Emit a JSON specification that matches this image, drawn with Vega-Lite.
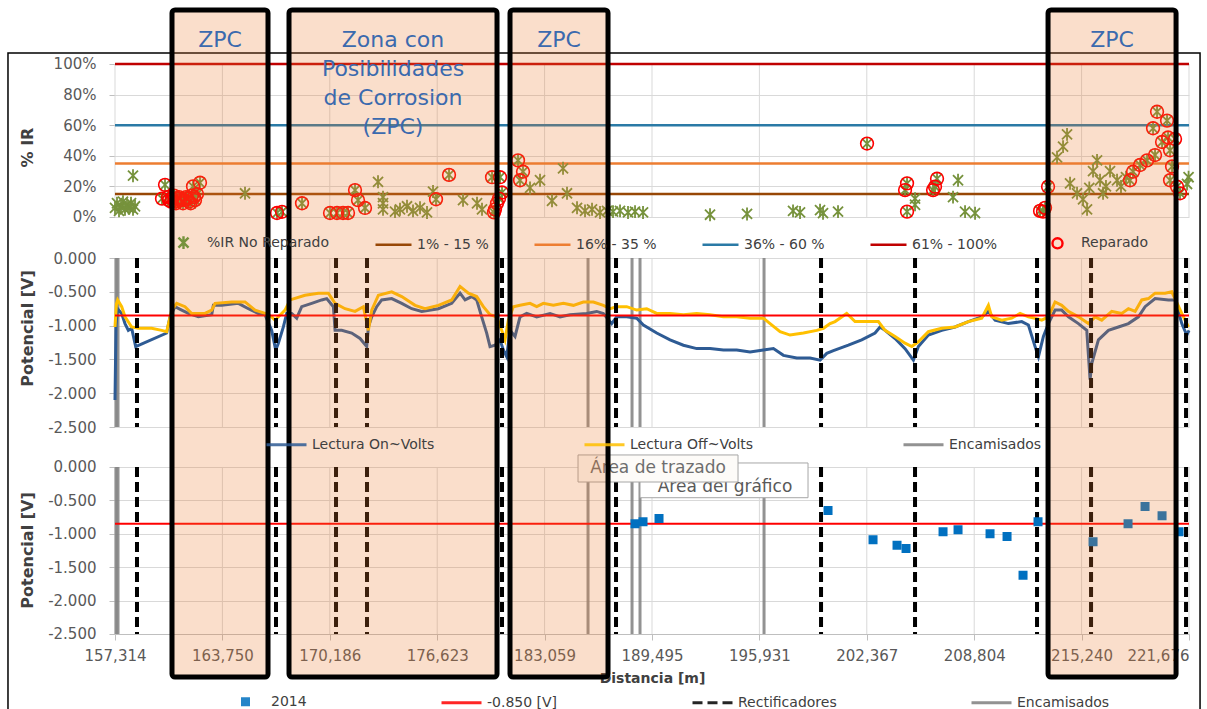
{
"$schema": "https://vega.github.io/schema/vega-lite/v6.json",
"width": 1074, "height": 667,
"autosize": {"type": "none"},
"padding": {"left": 115, "top": 10, "right": 18, "bottom": 32},
"background": "white",
"config": {
  "view": {"stroke": null},
  "font": "DejaVu Sans",
  "axis": {"labelFont": "DejaVu Sans", "labelFontSize": 15, "labelColor": "#595959", "titleFont": "DejaVu Sans", "titleFontSize": 16, "titleFontWeight": "bold", "titleColor": "#404040", "gridColor": "#D9D9D9", "gridWidth": 1, "tickColor": "#BFBFBF", "domainColor": "#BFBFBF"},
  "legend": {"labelFont": "DejaVu Sans", "labelFontSize": 14, "labelColor": "#404040", "padding": 0, "labelOffset": 4, "labelLimit": 300}
},
"datasets": {
  "one": [{}],
  "ticks": [{"d":157314},{"d":163750},{"d":170186},{"d":176623},{"d":183059},{"d":189495},{"d":195931},{"d":202367},{"d":208804},{"d":215240},{"d":221676}],
  "thr": [{"serie":"1% - 15 %","ir":15},{"serie":"16% - 35 %","ir":35},{"serie":"36% - 60 %","ir":60},{"serie":"61% - 100%","ir":100}],
  "ir": [
{"d":157314,"ir":6,"rep":0},{"d":157434,"ir":9,"rep":0},{"d":157554,"ir":4,"rep":0},{"d":157674,"ir":7,"rep":0},{"d":157793,"ir":10,"rep":0},{"d":157913,"ir":5,"rep":0},{"d":158033,"ir":8,"rep":0},{"d":158153,"ir":6,"rep":0},{"d":158273,"ir":9,"rep":0},{"d":158393,"ir":5,"rep":0},{"d":158513,"ir":7,"rep":0},{"d":158393,"ir":27,"rep":0},
{"d":165105,"ir":15.5,"rep":0},{"d":173076,"ir":23,"rep":0},{"d":173375,"ir":9,"rep":0},{"d":173375,"ir":13,"rep":0},{"d":173375,"ir":5,"rep":0},{"d":174094,"ir":3.5,"rep":0},{"d":174394,"ir":5,"rep":0},{"d":174813,"ir":7,"rep":0},{"d":175173,"ir":4,"rep":0},{"d":175593,"ir":6,"rep":0},{"d":176012,"ir":3,"rep":0},{"d":176372,"ir":16.6,"rep":0},{"d":178170,"ir":11,"rep":0},{"d":179009,"ir":9,"rep":0},{"d":179308,"ir":5,"rep":0},{"d":182185,"ir":19,"rep":0},{"d":182784,"ir":24,"rep":0},{"d":183503,"ir":10.6,"rep":0},{"d":184163,"ir":31.8,"rep":0},{"d":184402,"ir":15.5,"rep":0},{"d":185002,"ir":6,"rep":0},{"d":185481,"ir":4,"rep":0},{"d":185901,"ir":5,"rep":0},{"d":186380,"ir":3,"rep":0},{"d":186800,"ir":4,"rep":0},{"d":187159,"ir":3.5,"rep":0},{"d":187579,"ir":4,"rep":0},{"d":188058,"ir":3,"rep":0},{"d":188478,"ir":3.5,"rep":0},{"d":188957,"ir":3,"rep":0},{"d":192972,"ir":1.5,"rep":0},{"d":195190,"ir":2,"rep":0},{"d":197947,"ir":4,"rep":0},{"d":198366,"ir":3,"rep":0},{"d":199565,"ir":4.5,"rep":0},{"d":199744,"ir":2.5,"rep":0},{"d":200643,"ir":3.5,"rep":0},{"d":205258,"ir":8,"rep":0},{"d":205258,"ir":12,"rep":0},{"d":207535,"ir":13,"rep":0},{"d":207835,"ir":24,"rep":0},{"d":208255,"ir":3.5,"rep":0},{"d":208854,"ir":2.5,"rep":0},{"d":213768,"ir":39,"rep":0},{"d":214128,"ir":46,"rep":0},{"d":214367,"ir":54,"rep":0},{"d":214547,"ir":22,"rep":0},{"d":214967,"ir":15.5,"rep":0},{"d":215326,"ir":11.6,"rep":0},{"d":215566,"ir":5,"rep":0},{"d":215700,"ir":19,"rep":0},{"d":215926,"ir":30,"rep":0},{"d":216165,"ir":37,"rep":0},{"d":216345,"ir":24,"rep":0},{"d":216525,"ir":15.5,"rep":0},{"d":216700,"ir":20,"rep":0},{"d":216944,"ir":30,"rep":0},{"d":217364,"ir":24,"rep":0},{"d":217600,"ir":20,"rep":0},{"d":217900,"ir":26,"rep":0},{"d":221559,"ir":21.6,"rep":0},{"d":221650,"ir":26,"rep":0},
{"d":160131,"ir":12,"rep":1},{"d":160311,"ir":21,"rep":1},{"d":160490,"ir":13,"rep":1},{"d":160550,"ir":11,"rep":1},{"d":160670,"ir":10,"rep":1},{"d":160730,"ir":12,"rep":1},{"d":160850,"ir":14,"rep":1},{"d":160910,"ir":10,"rep":1},{"d":160970,"ir":9,"rep":1},{"d":161090,"ir":12,"rep":1},{"d":161150,"ir":13,"rep":1},{"d":161210,"ir":11,"rep":1},{"d":161389,"ir":9,"rep":1},{"d":161450,"ir":11,"rep":1},{"d":161569,"ir":13,"rep":1},{"d":161650,"ir":12,"rep":1},{"d":161749,"ir":10,"rep":1},{"d":161850,"ir":9,"rep":1},{"d":161929,"ir":14,"rep":1},{"d":161989,"ir":20,"rep":1},{"d":162050,"ir":13,"rep":1},{"d":162108,"ir":11,"rep":1},{"d":162228,"ir":15,"rep":1},{"d":162408,"ir":22.4,"rep":1},
{"d":167023,"ir":2.6,"rep":1},{"d":167322,"ir":3.4,"rep":1},{"d":168521,"ir":9,"rep":1},{"d":170199,"ir":2.6,"rep":1},{"d":170618,"ir":2.6,"rep":1},{"d":170978,"ir":2.6,"rep":1},{"d":171278,"ir":2.6,"rep":1},{"d":171697,"ir":17.6,"rep":1},{"d":171877,"ir":11,"rep":1},{"d":172297,"ir":5.9,"rep":1},{"d":176552,"ir":11.6,"rep":1},{"d":177331,"ir":27.5,"rep":1},{"d":179908,"ir":26,"rep":1},{"d":180387,"ir":26,"rep":1},{"d":180087,"ir":5,"rep":1},{"d":180207,"ir":9,"rep":1},{"d":180327,"ir":12,"rep":1},{"d":180507,"ir":16,"rep":1},{"d":180027,"ir":3,"rep":1},{"d":181466,"ir":37,"rep":1},{"d":181586,"ir":24,"rep":1},{"d":181765,"ir":29.6,"rep":1},
{"d":202381,"ir":48,"rep":1},{"d":204659,"ir":17.6,"rep":1},{"d":204779,"ir":22,"rep":1},{"d":204779,"ir":3.5,"rep":1},{"d":206337,"ir":17.6,"rep":1},{"d":206457,"ir":19.8,"rep":1},{"d":206576,"ir":25,"rep":1},{"d":212749,"ir":4,"rep":1},{"d":212929,"ir":3.5,"rep":1},{"d":213049,"ir":6,"rep":1},{"d":213229,"ir":19.8,"rep":1},{"d":218143,"ir":24,"rep":1},{"d":218323,"ir":29.6,"rep":1},{"d":218742,"ir":34,"rep":1},{"d":219162,"ir":37,"rep":1},{"d":219641,"ir":40.5,"rep":1},{"d":219521,"ir":58,"rep":1},{"d":219761,"ir":68.8,"rep":1},{"d":220061,"ir":49,"rep":1},{"d":220360,"ir":63,"rep":1},{"d":220420,"ir":52,"rep":1},{"d":220540,"ir":43.6,"rep":1},{"d":220540,"ir":24,"rep":1},{"d":220660,"ir":33,"rep":1},{"d":220840,"ir":51,"rep":1},{"d":220960,"ir":19.8,"rep":1},{"d":221139,"ir":15.5,"rep":1}
  ],
  "on": [{"d":157314,"v":-2.1},{"d":157374,"v":-1.0},{"d":157464,"v":-0.75},{"d":157714,"v":-0.82},{"d":157914,"v":-0.97},{"d":158114,"v":-1.07},{"d":158314,"v":-1.04},{"d":158554,"v":-1.31},{"d":160411,"v":-1.11},{"d":160611,"v":-0.87},{"d":160911,"v":-0.72},{"d":161311,"v":-0.77},{"d":161711,"v":-0.82},{"d":162311,"v":-0.87},{"d":163110,"v":-0.84},{"d":163209,"v":-0.70},{"d":163709,"v":-0.70},{"d":164708,"v":-0.67},{"d":165307,"v":-0.75},{"d":165906,"v":-0.82},{"d":166305,"v":-0.84},{"d":166704,"v":-1.07},{"d":166944,"v":-1.36},{"d":167104,"v":-1.26},{"d":167404,"v":-1.02},{"d":167604,"v":-0.82},{"d":167903,"v":-0.82},{"d":168203,"v":-0.89},{"d":168503,"v":-0.72},{"d":169102,"v":-0.67},{"d":169702,"v":-0.62},{"d":170001,"v":-0.60},{"d":170401,"v":-0.72},{"d":170501,"v":-1.07},{"d":170900,"v":-1.07},{"d":171500,"v":-1.11},{"d":171999,"v":-1.19},{"d":172399,"v":-1.31},{"d":172499,"v":-1.02},{"d":172699,"v":-0.87},{"d":172998,"v":-0.72},{"d":173298,"v":-0.62},{"d":173897,"v":-0.60},{"d":174497,"v":-0.67},{"d":175096,"v":-0.75},{"d":175695,"v":-0.79},{"d":176694,"v":-0.75},{"d":177493,"v":-0.67},{"d":177992,"v":-0.52},{"d":178292,"v":-0.62},{"d":178692,"v":-0.57},{"d":178989,"v":-0.62},{"d":179288,"v":-0.87},{"d":179588,"v":-1.11},{"d":179788,"v":-1.31},{"d":180088,"v":-1.29},{"d":180387,"v":-1.21},{"d":180587,"v":-1.36},{"d":180787,"v":-1.46},{"d":180987,"v":-1.07},{"d":181286,"v":-1.16},{"d":181586,"v":-0.87},{"d":181986,"v":-0.82},{"d":182585,"v":-0.87},{"d":183384,"v":-0.82},{"d":183984,"v":-0.87},{"d":184583,"v":-0.84},{"d":185582,"v":-0.82},{"d":186181,"v":-0.79},{"d":186581,"v":-0.82},{"d":187081,"v":-0.97},{"d":187380,"v":-0.87},{"d":187980,"v":-0.87},{"d":188579,"v":-0.89},{"d":188979,"v":-0.99},{"d":189778,"v":-1.11},{"d":190577,"v":-1.21},{"d":191376,"v":-1.29},{"d":192176,"v":-1.34},{"d":192975,"v":-1.34},{"d":193774,"v":-1.36},{"d":194573,"v":-1.36},{"d":195372,"v":-1.39},{"d":196171,"v":-1.36},{"d":196771,"v":-1.34},{"d":197370,"v":-1.44},{"d":198169,"v":-1.48},{"d":198969,"v":-1.48},{"d":199568,"v":-1.51},{"d":199968,"v":-1.41},{"d":200367,"v":-1.37},{"d":201263,"v":-1.29},{"d":202062,"v":-1.21},{"d":202862,"v":-1.11},{"d":203161,"v":-1.02},{"d":203461,"v":-1.07},{"d":204060,"v":-1.19},{"d":204660,"v":-1.34},{"d":205159,"v":-1.51},{"d":205459,"v":-1.31},{"d":206058,"v":-1.14},{"d":206858,"v":-1.07},{"d":207657,"v":-1.02},{"d":208456,"v":-0.94},{"d":209255,"v":-0.87},{"d":209655,"v":-0.79},{"d":210054,"v":-0.92},{"d":210853,"v":-0.97},{"d":211653,"v":-0.94},{"d":212052,"v":-0.99},{"d":212452,"v":-1.31},{"d":212652,"v":-1.46},{"d":212951,"v":-1.16},{"d":213251,"v":-0.97},{"d":213651,"v":-0.77},{"d":214050,"v":-0.77},{"d":214450,"v":-0.87},{"d":215049,"v":-0.97},{"d":215549,"v":-1.07},{"d":215748,"v":-1.80},{"d":215848,"v":-1.56},{"d":216248,"v":-1.21},{"d":216848,"v":-1.07},{"d":217447,"v":-1.02},{"d":218046,"v":-0.97},{"d":218646,"v":-0.87},{"d":219045,"v":-0.72},{"d":219645,"v":-0.60},{"d":220444,"v":-0.62},{"d":220844,"v":-0.62},{"d":221243,"v":-0.97},{"d":221543,"v":-1.14},{"d":221676,"v":-1.07}],
  "off": [{"d":157314,"v":-1.02},{"d":157400,"v":-0.68},{"d":157474,"v":-0.62},{"d":157714,"v":-0.72},{"d":157914,"v":-0.87},{"d":158314,"v":-1.02},{"d":158713,"v":-1.04},{"d":159512,"v":-1.04},{"d":160111,"v":-1.07},{"d":160411,"v":-1.09},{"d":160711,"v":-0.77},{"d":161010,"v":-0.67},{"d":161510,"v":-0.72},{"d":161910,"v":-0.82},{"d":162709,"v":-0.82},{"d":163110,"v":-0.77},{"d":163309,"v":-0.67},{"d":164308,"v":-0.65},{"d":165108,"v":-0.65},{"d":165707,"v":-0.77},{"d":166305,"v":-0.82},{"d":166704,"v":-0.87},{"d":166904,"v":-0.92},{"d":167504,"v":-0.77},{"d":167804,"v":-0.62},{"d":168702,"v":-0.55},{"d":169502,"v":-0.52},{"d":170101,"v":-0.52},{"d":170501,"v":-0.67},{"d":171100,"v":-0.75},{"d":171699,"v":-0.79},{"d":172199,"v":-0.72},{"d":172499,"v":-1.07},{"d":172699,"v":-0.77},{"d":173098,"v":-0.55},{"d":173897,"v":-0.50},{"d":174497,"v":-0.57},{"d":175296,"v":-0.70},{"d":175895,"v":-0.75},{"d":176694,"v":-0.70},{"d":177493,"v":-0.62},{"d":177992,"v":-0.42},{"d":178492,"v":-0.52},{"d":178989,"v":-0.57},{"d":179388,"v":-0.72},{"d":179788,"v":-0.84},{"d":180187,"v":-0.87},{"d":180487,"v":-1.07},{"d":180687,"v":-1.21},{"d":180887,"v":-0.92},{"d":181186,"v":-0.72},{"d":181586,"v":-0.70},{"d":182185,"v":-0.67},{"d":182585,"v":-0.72},{"d":182985,"v":-0.67},{"d":183584,"v":-0.70},{"d":184183,"v":-0.67},{"d":184783,"v":-0.70},{"d":185382,"v":-0.65},{"d":185982,"v":-0.65},{"d":186581,"v":-0.70},{"d":186981,"v":-0.75},{"d":187380,"v":-0.72},{"d":187980,"v":-0.72},{"d":188579,"v":-0.77},{"d":189178,"v":-0.75},{"d":189778,"v":-0.82},{"d":190577,"v":-0.82},{"d":191376,"v":-0.84},{"d":192176,"v":-0.82},{"d":192975,"v":-0.84},{"d":193774,"v":-0.87},{"d":194573,"v":-0.87},{"d":195372,"v":-0.89},{"d":196171,"v":-0.89},{"d":196571,"v":-0.97},{"d":197170,"v":-1.09},{"d":197770,"v":-1.14},{"d":198569,"v":-1.11},{"d":199368,"v":-1.07},{"d":199768,"v":-1.04},{"d":200167,"v":-0.97},{"d":200464,"v":-0.94},{"d":201163,"v":-0.82},{"d":201663,"v":-0.94},{"d":202462,"v":-0.94},{"d":203061,"v":-0.94},{"d":203461,"v":-1.07},{"d":204060,"v":-1.16},{"d":204660,"v":-1.26},{"d":205060,"v":-1.31},{"d":205459,"v":-1.24},{"d":206058,"v":-1.09},{"d":206858,"v":-1.04},{"d":207657,"v":-1.02},{"d":208456,"v":-0.94},{"d":209255,"v":-0.89},{"d":209655,"v":-0.70},{"d":209855,"v":-0.87},{"d":210454,"v":-0.92},{"d":211053,"v":-0.89},{"d":211553,"v":-0.82},{"d":212052,"v":-0.87},{"d":212452,"v":-0.89},{"d":212852,"v":-0.92},{"d":213251,"v":-0.87},{"d":213651,"v":-0.65},{"d":214050,"v":-0.70},{"d":214450,"v":-0.79},{"d":215049,"v":-0.87},{"d":215649,"v":-0.97},{"d":216048,"v":-0.87},{"d":216448,"v":-0.92},{"d":217047,"v":-0.79},{"d":217647,"v":-0.82},{"d":218046,"v":-0.75},{"d":218446,"v":-0.79},{"d":218846,"v":-0.62},{"d":219245,"v":-0.60},{"d":219645,"v":-0.52},{"d":220244,"v":-0.52},{"d":220644,"v":-0.50},{"d":221243,"v":-0.82},{"d":221643,"v":-1.02}],
  "enc": [{"d":157374},{"d":157494},{"d":185661},{"d":188298},{"d":188777},{"d":196209}],
  "rect": [{"d":158632},{"d":166963},{"d":170559},{"d":172416},{"d":180507},{"d":187339},{"d":199625},{"d":205258},{"d":212569},{"d":215806},{"d":221499}],
  "p14": [{"d":188478,"v":-0.85},{"d":188957,"v":-0.82},{"d":189916,"v":-0.77},{"d":200044,"v":-0.65},{"d":202741,"v":-1.09},{"d":204179,"v":-1.17},{"d":204719,"v":-1.22},{"d":206936,"v":-0.97},{"d":207835,"v":-0.94},{"d":209753,"v":-1.0},{"d":210772,"v":-1.04},{"d":211730,"v":-1.62},{"d":212629,"v":-0.82},{"d":215926,"v":-1.12},{"d":218023,"v":-0.85},{"d":219042,"v":-0.59},{"d":220061,"v":-0.73},{"d":221080,"v":-0.97}],
  "zpc": [{"x1":160730,"x2":166483,"xm":163607,"label":"ZPC"},{"x1":167742,"x2":180207,"xm":173975,"label":"Zona con\nPosibilidades\nde Corrosion\n(ZPC)"},{"x1":180986,"x2":186859,"xm":183923,"label":"ZPC"},{"x1":213229,"x2":220900,"xm":217065,"label":"ZPC"}]
},
"resolve": {"scale": {"y": "independent", "color": "independent", "shape": "independent", "strokeDash": "independent"}},
"layer": [
 {
  "layer": [
   {"data": {"name": "one"},
    "mark": {"type": "rect", "fill": "transparent", "stroke": "#000000", "strokeWidth": 1.5},
    "encoding": {
     "x": {"datum": 150901, "type": "quantitative", "scale": {"domain": [157314, 221676], "nice": false, "zero": false}},
     "x2": {"datum": 222338},
     "y": {"datum": 107.2, "type": "quantitative", "scale": {"domain": [-300.65, 135.29], "nice": false, "zero": false}},
     "y2": {"datum": -330}}},
   {"data": {"name": "ticks"},
    "mark": {"type": "rule", "color": "#D9D9D9", "strokeWidth": 1},
    "encoding": {
     "x": {"field": "d", "type": "quantitative", "scale": {"domain": [157314, 221676], "nice": false, "zero": false}},
     "y": {"datum": 100, "type": "quantitative", "scale": {"domain": [-300.65, 135.29], "nice": false, "zero": false}},
     "y2": {"datum": 0}}},
   {"data": {"name": "thr"},
    "mark": {"type": "rule", "strokeWidth": 2.5},
    "encoding": {
     "y": {"field": "ir", "type": "quantitative", "scale": {"domain": [-300.65, 135.29], "nice": false, "zero": false},
       "axis": {"orient": "left", "values": [0, 20, 40, 60, 80, 100], "labelExpr": "datum.value + '%'", "title": "% IR", "titleX": -80, "titleY": 137, "grid": true, "domain": false, "tickSize": 6, "labelPadding": 13}},
     "color": {"field": "serie", "type": "nominal",
       "scale": {"domain": ["%IR No Reparado", "1% - 15 %", "16% - 35 %", "36% - 60 %", "61% - 100%", "Reparado"], "range": ["#76923C", "#974706", "#ED7D31", "#2A7AA6", "#C00000", "#FF0000"]},
       "legend": {"orient": "none", "legendX": 49, "legendY": 213, "direction": "horizontal", "columns": 6, "columnPadding": 40, "title": null, "symbolSize": 1296, "symbolStrokeWidth": 2.4}}}},
   {"data": {"name": "ir"},
    "mark": {"type": "point", "size": 1296, "filled": false, "strokeWidth": 1.8, "opacity": 1},
    "encoding": {
     "x": {"field": "d", "type": "quantitative", "scale": {"domain": [157314, 221676], "nice": false, "zero": false}},
     "y": {"field": "ir", "type": "quantitative", "scale": {"domain": [-300.65, 135.29], "nice": false, "zero": false}},
     "color": {"datum": "%IR No Reparado", "type": "nominal", "scale": {"domain": ["%IR No Reparado", "1% - 15 %", "16% - 35 %", "36% - 60 %", "61% - 100%", "Reparado"], "range": ["#76923C", "#974706", "#ED7D31", "#2A7AA6", "#C00000", "#FF0000"]},
       "legend": {"orient": "none", "legendX": 49, "legendY": 213, "direction": "horizontal", "columns": 6, "columnPadding": 40, "title": null, "symbolSize": 1296, "symbolStrokeWidth": 2.4}},
     "shape": {"datum": "%IR No Reparado", "type": "nominal", "scale": {"domain": ["%IR No Reparado", "1% - 15 %", "16% - 35 %", "36% - 60 %", "61% - 100%", "Reparado"], "range": ["M-0.28,-0.28L0.28,0.28M-0.28,0.28L0.28,-0.28M0,-0.36L0,0.36", "stroke", "stroke", "stroke", "stroke", "M0.28,0A0.28,0.28,0,1,1,-0.28,0A0.28,0.28,0,1,1,0.28,0Z"]},
       "legend": {"orient": "none", "legendX": 49, "legendY": 213, "direction": "horizontal", "columns": 6, "columnPadding": 40, "title": null, "symbolSize": 1296, "symbolStrokeWidth": 2.4}}}},
   {"data": {"name": "ir"},
    "transform": [{"filter": "datum.rep == 1"}],
    "mark": {"type": "point", "size": 2060, "filled": false, "strokeWidth": 1.6, "opacity": 1},
    "encoding": {
     "x": {"field": "d", "type": "quantitative", "scale": {"domain": [157314, 221676], "nice": false, "zero": false}},
     "y": {"field": "ir", "type": "quantitative", "scale": {"domain": [-300.65, 135.29], "nice": false, "zero": false}},
     "color": {"datum": "Reparado", "type": "nominal", "scale": {"domain": ["%IR No Reparado", "1% - 15 %", "16% - 35 %", "36% - 60 %", "61% - 100%", "Reparado"], "range": ["#76923C", "#974706", "#ED7D31", "#2A7AA6", "#C00000", "#FF0000"]},
       "legend": {"orient": "none", "legendX": 49, "legendY": 213, "direction": "horizontal", "columns": 6, "columnPadding": 40, "title": null, "symbolSize": 1296, "symbolStrokeWidth": 2.4}},
     "shape": {"datum": "Reparado", "type": "nominal", "scale": {"domain": ["%IR No Reparado", "1% - 15 %", "16% - 35 %", "36% - 60 %", "61% - 100%", "Reparado"], "range": ["M-0.28,-0.28L0.28,0.28M-0.28,0.28L0.28,-0.28M0,-0.36L0,0.36", "stroke", "stroke", "stroke", "stroke", "M0.28,0A0.28,0.28,0,1,1,-0.28,0A0.28,0.28,0,1,1,0.28,0Z"]},
       "legend": {"orient": "none", "legendX": 49, "legendY": 213, "direction": "horizontal", "columns": 6, "columnPadding": 40, "title": null, "symbolSize": 1296, "symbolStrokeWidth": 2.4}}}}
  ]
 },
 {
  "layer": [
   {"data": {"name": "ticks"},
    "mark": {"type": "rule", "color": "#D9D9D9", "strokeWidth": 1},
    "encoding": {
     "x": {"field": "d", "type": "quantitative", "scale": {"domain": [157314, 221676], "nice": false, "zero": false}},
     "y": {"datum": 0, "type": "quantitative", "scale": {"domain": [-6.198, 3.669], "nice": false, "zero": false}},
     "y2": {"datum": -2.5}}},
   {"data": {"name": "enc"},
    "mark": {"type": "rule", "strokeWidth": 3, "opacity": 0.85},
    "encoding": {
     "x": {"field": "d", "type": "quantitative", "scale": {"domain": [157314, 221676], "nice": false, "zero": false}},
     "y": {"datum": 0, "type": "quantitative", "scale": {"domain": [-6.198, 3.669], "nice": false, "zero": false}},
     "y2": {"datum": -2.5},
     "color": {"datum": "Encamisados", "type": "nominal", "scale": {"domain": ["Lectura On~Volts", "Lectura Off~Volts", "Encamisados"], "range": ["#2E5B94", "#FFC000", "#7F7F7F"]}}}},
   {"data": {"name": "on"},
    "mark": {"type": "line", "strokeWidth": 3},
    "encoding": {
     "x": {"field": "d", "type": "quantitative", "scale": {"domain": [157314, 221676], "nice": false, "zero": false}},
     "y": {"field": "v", "type": "quantitative", "scale": {"domain": [-6.198, 3.669], "nice": false, "zero": false},
       "axis": {"orient": "left", "values": [0, -0.5, -1, -1.5, -2, -2.5], "labelExpr": "(datum.value < 0 ? '-' : '') + format(abs(datum.value), '.3f')", "title": "Potencial [V]", "titleX": -80, "titleY": 318, "grid": true, "domain": false, "tickSize": 6, "labelPadding": 13}},
     "color": {"datum": "Lectura On~Volts", "type": "nominal", "scale": {"domain": ["Lectura On~Volts", "Lectura Off~Volts", "Encamisados"], "range": ["#2E5B94", "#FFC000", "#7F7F7F"]},
       "legend": {"orient": "none", "legendX": 150, "legendY": 413, "direction": "horizontal", "columns": 3, "columnPadding": 143, "title": null, "symbolSize": 1600, "symbolType": "stroke", "symbolStrokeWidth": 3}}}},
   {"data": {"name": "off"},
    "mark": {"type": "line", "strokeWidth": 3},
    "encoding": {
     "x": {"field": "d", "type": "quantitative", "scale": {"domain": [157314, 221676], "nice": false, "zero": false}},
     "y": {"field": "v", "type": "quantitative", "scale": {"domain": [-6.198, 3.669], "nice": false, "zero": false}},
     "color": {"datum": "Lectura Off~Volts", "type": "nominal", "scale": {"domain": ["Lectura On~Volts", "Lectura Off~Volts", "Encamisados"], "range": ["#2E5B94", "#FFC000", "#7F7F7F"]}}}},
   {"data": {"name": "one"},
    "mark": {"type": "rule", "color": "#FF0000", "strokeWidth": 2},
    "encoding": {
     "y": {"datum": -0.85, "type": "quantitative", "scale": {"domain": [-6.198, 3.669], "nice": false, "zero": false}}}},
   {"data": {"name": "rect"},
    "mark": {"type": "rule", "color": "#000000", "strokeWidth": 4, "strokeDash": [10, 5]},
    "encoding": {
     "x": {"field": "d", "type": "quantitative", "scale": {"domain": [157314, 221676], "nice": false, "zero": false}},
     "y": {"datum": 0, "type": "quantitative", "scale": {"domain": [-6.198, 3.669], "nice": false, "zero": false}},
     "y2": {"datum": -2.5}}}
  ]
 },
 {
  "layer": [
   {"data": {"name": "ticks"},
    "mark": {"type": "rule", "color": "#D9D9D9", "strokeWidth": 1},
    "encoding": {
     "x": {"field": "d", "type": "quantitative", "scale": {"domain": [157314, 221676], "nice": false, "zero": false}},
     "y": {"datum": 0, "type": "quantitative", "scale": {"domain": [-3.144, 6.841], "nice": false, "zero": false}},
     "y2": {"datum": -2.5}}},
   {"data": {"name": "enc"},
    "mark": {"type": "rule", "strokeWidth": 3, "opacity": 0.85},
    "encoding": {
     "x": {"field": "d", "type": "quantitative", "scale": {"domain": [157314, 221676], "nice": false, "zero": false}},
     "y": {"datum": 0, "type": "quantitative", "scale": {"domain": [-3.144, 6.841], "nice": false, "zero": false}},
     "y2": {"datum": -2.5},
     "color": {"datum": "Encamisados", "type": "nominal", "scale": {"domain": ["2014", "-0.850 [V]", "Rectificadores", "Encamisados"], "range": ["#0070C0", "#FF0000", "#000000", "#7F7F7F"]}}}},
   {"data": {"name": "one"},
    "mark": {"type": "rule", "strokeWidth": 2},
    "encoding": {
     "y": {"datum": -0.85, "type": "quantitative", "scale": {"domain": [-3.144, 6.841], "nice": false, "zero": false}},
     "color": {"datum": "-0.850 [V]", "type": "nominal", "scale": {"domain": ["2014", "-0.850 [V]", "Rectificadores", "Encamisados"], "range": ["#0070C0", "#FF0000", "#000000", "#7F7F7F"]}}}},
   {"data": {"name": "rect"},
    "mark": {"type": "rule", "strokeWidth": 4},
    "encoding": {
     "x": {"field": "d", "type": "quantitative", "scale": {"domain": [157314, 221676], "nice": false, "zero": false}},
     "y": {"datum": 0, "type": "quantitative", "scale": {"domain": [-3.144, 6.841], "nice": false, "zero": false}},
     "y2": {"datum": -2.5},
     "color": {"datum": "Rectificadores", "type": "nominal", "scale": {"domain": ["2014", "-0.850 [V]", "Rectificadores", "Encamisados"], "range": ["#0070C0", "#FF0000", "#000000", "#7F7F7F"]}},
     "strokeDash": {"datum": "Rectificadores", "type": "nominal", "scale": {"domain": ["2014", "-0.850 [V]", "Rectificadores", "Encamisados"], "range": [[1, 0], [1, 0], [10, 5], [1, 0]]}}}},
   {"data": {"name": "p14"},
    "mark": {"type": "point", "size": 1600, "filled": false, "strokeWidth": 3, "opacity": 1},
    "encoding": {
     "x": {"field": "d", "type": "quantitative", "scale": {"domain": [157314, 221676], "nice": false, "zero": false},
       "axis": {"values": [157314, 163750, 170186, 176623, 183059, 189495, 195931, 202367, 208804, 215240, 221676], "format": ",d", "offset": -43, "grid": false, "tickSize": 6, "labelPadding": 8, "labelFlush": false, "labelAlign": {"condition": {"test": "datum.value > 221000", "value": "right"}, "value": "center"}, "title": "Distancia [m]", "titleFontSize": 14, "titlePadding": 8}},
     "y": {"field": "v", "type": "quantitative", "scale": {"domain": [-3.144, 6.841], "nice": false, "zero": false},
       "axis": {"orient": "left", "values": [0, -0.5, -1, -1.5, -2, -2.5], "labelExpr": "(datum.value < 0 ? '-' : '') + format(abs(datum.value), '.3f')", "title": "Potencial [V]", "titleX": -80, "titleY": 540, "grid": true, "domain": false, "tickSize": 6, "labelPadding": 13}},
     "color": {"datum": "2014", "type": "nominal", "scale": {"domain": ["2014", "-0.850 [V]", "Rectificadores", "Encamisados"], "range": ["#0070C0", "#FF0000", "#000000", "#7F7F7F"]},
       "legend": {"orient": "none", "legendX": 109, "legendY": 670, "direction": "horizontal", "columns": 4, "columnPadding": 128, "title": null, "symbolSize": 1600, "symbolStrokeWidth": 3}},
     "shape": {"datum": "2014", "type": "nominal", "scale": {"domain": ["2014", "-0.850 [V]", "Rectificadores", "Encamisados"], "range": ["M-0.225,-0.15L0.225,-0.15M-0.225,-0.05L0.225,-0.05M-0.225,0.05L0.225,0.05M-0.225,0.15L0.225,0.15", "stroke", "stroke", "stroke"]},
       "legend": {"orient": "none", "legendX": 109, "legendY": 670, "direction": "horizontal", "columns": 4, "columnPadding": 128, "title": null, "symbolSize": 1600, "symbolStrokeWidth": 3}},
     "strokeDash": {"datum": "2014", "type": "nominal", "scale": {"domain": ["2014", "-0.850 [V]", "Rectificadores", "Encamisados"], "range": [[1, 0], [1, 0], [10, 5], [1, 0]]},
       "legend": {"orient": "none", "legendX": 109, "legendY": 670, "direction": "horizontal", "columns": 4, "columnPadding": 128, "title": null, "symbolSize": 1600, "symbolStrokeWidth": 3}}}},
   {"data": {"name": "one"},
    "mark": {"type": "rect", "fill": "#FFFFFF", "stroke": "#A6A6A6", "strokeWidth": 1},
    "encoding": {
     "x": {"datum": 188777, "type": "quantitative", "scale": {"domain": [157314, 221676], "nice": false, "zero": false}},
     "x2": {"datum": 198845},
     "y": {"datum": 0.06, "type": "quantitative", "scale": {"domain": [-3.144, 6.841], "nice": false, "zero": false}},
     "y2": {"datum": -0.46}}},
   {"data": {"name": "one"},
    "mark": {"type": "text", "text": "Área del gráfico", "fontSize": 17, "color": "#595959", "align": "center", "baseline": "middle"},
    "encoding": {
     "x": {"datum": 193871, "type": "quantitative", "scale": {"domain": [157314, 221676], "nice": false, "zero": false}},
     "y": {"datum": -0.30, "type": "quantitative", "scale": {"domain": [-3.144, 6.841], "nice": false, "zero": false}}}},
   {"data": {"name": "one"},
    "mark": {"type": "rect", "fill": "#FDFBF8", "stroke": "#A6A6A6", "strokeWidth": 1},
    "encoding": {
     "x": {"datum": 185062, "type": "quantitative", "scale": {"domain": [157314, 221676], "nice": false, "zero": false}},
     "x2": {"datum": 194650},
     "y": {"datum": 0.18, "type": "quantitative", "scale": {"domain": [-3.144, 6.841], "nice": false, "zero": false}},
     "y2": {"datum": -0.225}}},
   {"data": {"name": "one"},
    "mark": {"type": "text", "text": "Área de trazado", "fontSize": 17, "color": "#6E6E6E", "align": "center", "baseline": "middle"},
    "encoding": {
     "x": {"datum": 189857, "type": "quantitative", "scale": {"domain": [157314, 221676], "nice": false, "zero": false}},
     "y": {"datum": -0.02, "type": "quantitative", "scale": {"domain": [-3.144, 6.841], "nice": false, "zero": false}}}}
  ]
 },
 {
  "data": {"name": "zpc"},
  "layer": [
   {"mark": {"type": "rect", "fill": "#ED7D31", "fillOpacity": 0.25, "stroke": "#000000", "strokeWidth": 5, "strokeOpacity": 1, "cornerRadius": 3},
    "encoding": {
     "x": {"field": "x1", "type": "quantitative", "scale": {"domain": [157314, 221676], "nice": false, "zero": false}},
     "x2": {"field": "x2"}}},
   {"mark": {"type": "text", "fontSize": 22, "color": "#3B6AAE", "align": "center", "baseline": "top", "lineBreak": "\n", "lineHeight": 29},
    "encoding": {
     "x": {"field": "xm", "type": "quantitative", "scale": {"domain": [157314, 221676], "nice": false, "zero": false}},
     "y": {"datum": 122.5, "type": "quantitative", "scale": {"domain": [-300.65, 135.29], "nice": false, "zero": false}, "axis": null},
     "text": {"field": "label", "type": "nominal"}}}
  ]
 }
]
}
